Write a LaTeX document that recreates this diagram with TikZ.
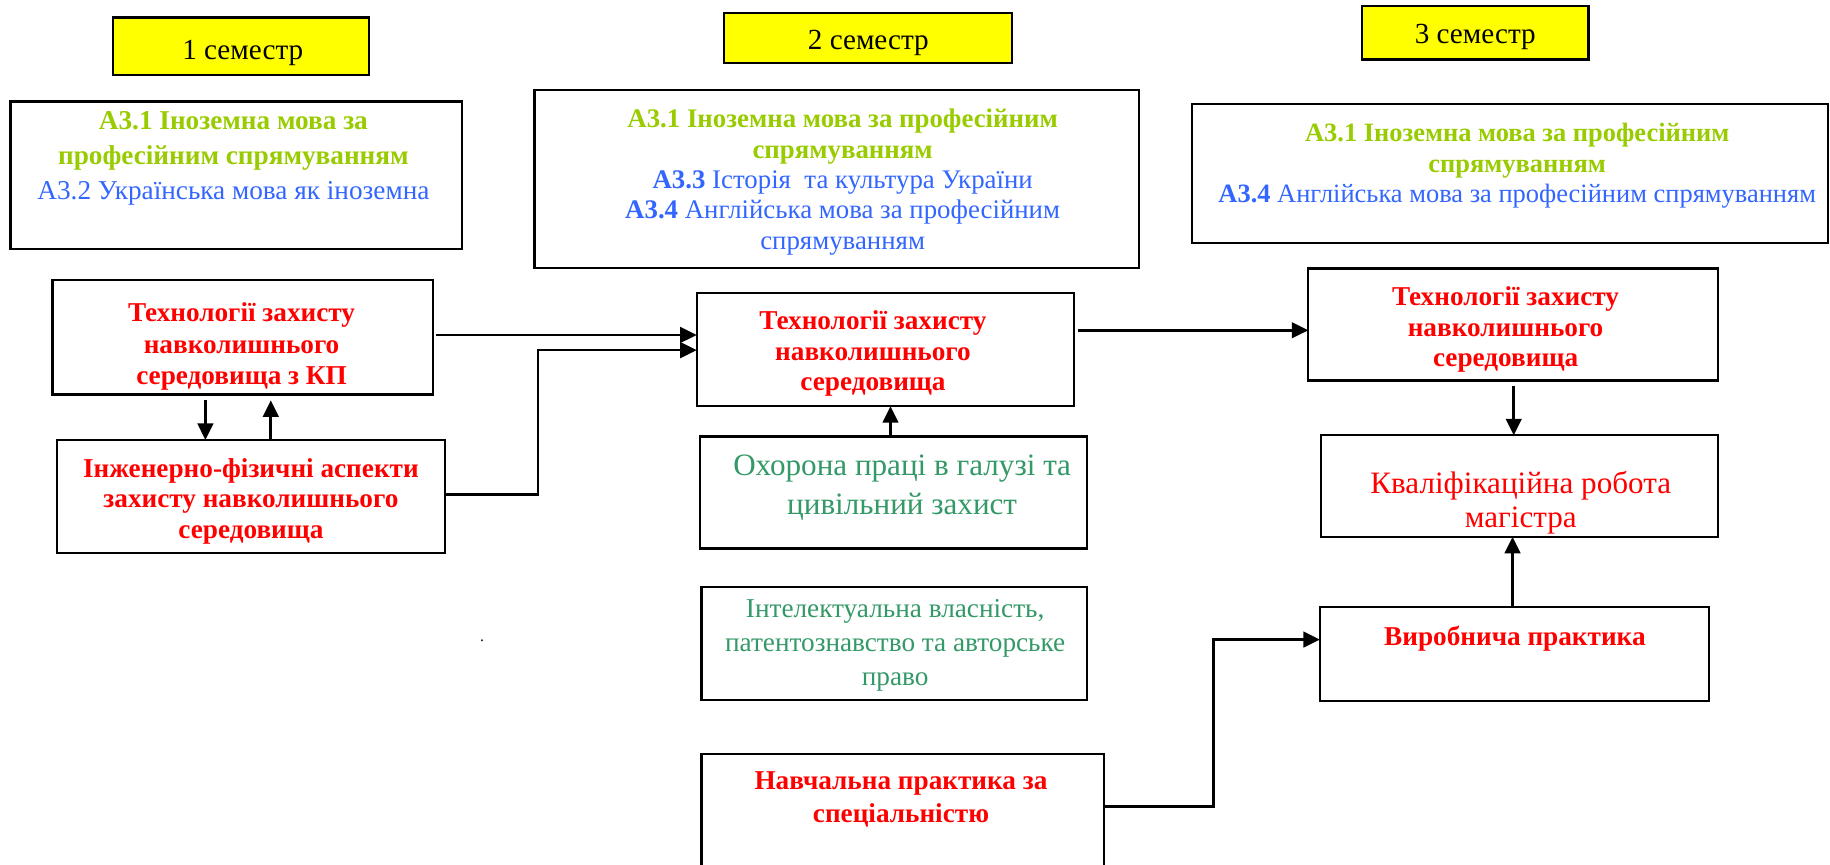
\documentclass[tikz,border=0pt]{standalone}
\usepackage{fontspec}
\setmainfont{Liberation Serif}
\usetikzlibrary{arrows.meta,calc}
\definecolor{semyellow}{HTML}{FFFF00}
\definecolor{limeg}{HTML}{99CC00}
\definecolor{blueA}{HTML}{3366FF}
\definecolor{redA}{HTML}{FF0000}
\definecolor{seag}{HTML}{339966}
\begin{document}
\begin{tikzpicture}[x=0.6pt,y=-0.6pt,
  box/.style={draw=black, line width=1.1pt, inner sep=0pt, outer sep=0pt},
  sembox/.style={box, fill=semyellow},
  txt/.style={align=center, inner sep=0pt},
  arr/.style={line width=1.4pt, -{Triangle[length=8.5pt,width=8pt]}}]
\useasboundingbox (0,0) rectangle (1568,741);
\fill[white] (0,0) rectangle (1568,741);

% semester labels
\node[sembox, minimum width=131.4pt, minimum height=29.4pt] (s1) at (206.5,39.5) {};
\node[sembox, minimum width=148.2pt, minimum height=25.8pt] (s2) at (743.5,32.5) {};
\node[sembox, minimum width=116.4pt, minimum height=27.6pt] (s3) at (1264,28) {};
\node[txt, font=\fontsize{15}{18}\selectfont] (s1t) at (208,45) {1 семестр};
\node[txt, font=\fontsize{15}{18}\selectfont] (s2t) at (744,37) {2 семестр};
\node[txt, font=\fontsize{15}{18}\selectfont] (s3t) at (1264,32) {3 семестр};

% language boxes
\node[box, minimum width=232.2pt, minimum height=75.6pt] (a) at (202.5,150) {};
\node[box, minimum width=310.8pt, minimum height=91.8pt] (b) at (717,153.5) {};
\node[box, minimum width=327pt, minimum height=71.4pt] (c) at (1293.5,148.5) {};
\node[txt, font=\fontsize{14}{18}\selectfont] (at) at (200,136)
  {\textcolor{limeg}{\textbf{А3.1 Іноземна мова за}}\\
   \textcolor{limeg}{\textbf{професійним спрямуванням}}\\
   \textcolor{blueA}{А3.2 Українська мова як іноземна}};
\node[txt, font=\fontsize{13.8}{15.6}\selectfont] (bt) at (722,156)
  {\textcolor{limeg}{\textbf{А3.1 Іноземна мова за професійним}}\\
   \textcolor{limeg}{\textbf{спрямуванням}}\\
   \textcolor{blueA}{\textbf{А3.3} Історія\ \ та культура України}\\
   \textcolor{blueA}{\textbf{А3.4} Англійська мова за професійним}\\
   \textcolor{blueA}{спрямуванням}};
\node[txt, font=\fontsize{13.6}{15.8}\selectfont] (ct) at (1300,142)
  {\textcolor{limeg}{\textbf{А3.1 Іноземна мова за професійним}}\\
   \textcolor{limeg}{\textbf{спрямуванням}}\\
   \textcolor{blueA}{\textbf{А3.4} Англійська мова за професійним спрямуванням}};

% discipline boxes
\node[box, minimum width=195.6pt, minimum height=58.8pt] (t1) at (208,289) {};
\node[box, minimum width=199.2pt, minimum height=58.2pt] (i) at (215,425.5) {};
\node[box, minimum width=193.8pt, minimum height=58.2pt] (t2) at (758.5,299.5) {};
\node[box, minimum width=198.6pt, minimum height=57.6pt] (o) at (765.5,422) {};
\node[box, minimum width=198pt, minimum height=58.2pt] (int) at (766,551.5) {};
\node[box, minimum width=207pt, minimum height=61.2pt] (n) at (773.5,697) {};
\node[box, minimum width=210.6pt, minimum height=57.6pt] (t3) at (1296.5,278) {};
\node[box, minimum width=204pt, minimum height=52.2pt] (k) at (1302,416.5) {};
\node[box, minimum width=199.8pt, minimum height=48.6pt] (v) at (1297.5,560.5) {};

\node[txt, font=\fontsize{14}{16.2}\selectfont\bfseries, text=redA] (t1t) at (207,297)
  {Технології захисту\\ навколишнього\\ середовища з КП};
\node[txt, font=\fontsize{14}{15.6}\selectfont\bfseries, text=redA] (it) at (215,429.5)
  {Інженерно-фізичні аспекти\\ захисту навколишнього\\ середовища};
\node[txt, font=\fontsize{14}{15.6}\selectfont\bfseries, text=redA] (t2t) at (748,303)
  {Технології захисту\\ навколишнього\\ середовища};
\node[txt, font=\fontsize{16}{19.8}\selectfont, text=seag] (ot) at (773,418)
  {Охорона праці в галузі та\\ цивільний захист};
\node[txt, font=\fontsize{14}{17.4}\selectfont, text=seag] (intt) at (767,553)
  {Інтелектуальна власність,\\ патентознавство та авторське\\ право};
\node[txt, font=\fontsize{14}{16.8}\selectfont\bfseries, text=redA] (nt) at (772,685)
  {Навчальна практика за\\ спеціальністю};
\node[txt, font=\fontsize{14}{15.6}\selectfont\bfseries, text=redA] (t3t) at (1290,282.5)
  {Технології захисту\\ навколишнього\\ середовища};
\node[txt, font=\fontsize{16}{17.4}\selectfont, text=redA] (kt) at (1303,430.5)
  {Кваліфікаційна робота\\ магістра};
\node[txt, font=\fontsize{14}{15.6}\selectfont\bfseries, text=redA] (vt) at (1298,547.5)
  {Виробнича практика};

\node[txt, font=\fontsize{8}{8}\selectfont] (dot) at (413,549) {.};

% connectors
\draw[arr] ($(t1.east |- 0,287)+(3,0)$) -- (t2.west |- 0,287);
\draw[arr] (i.east |- 0,424) -- (461,424) |- (t2.west |- 0,300);
\draw[arr] ($(176,0 |- t1.south)+(0,5)$) -- (176,0 |- i.north);
\draw[arr] (232,0 |- i.north) -- ($(232,0 |- t1.south)+(0,5)$);
\draw[arr] (763,0 |- o.north) -- (763,0 |- t2.south);
\draw[arr] ($(t2.east |- 0,283)+(4,0)$) -- (t3.west |- 0,283);
\draw[arr] ($(1297,0 |- t3.south)+(0,5)$) -- (1297,0 |- k.north);
\draw[arr] (1296,0 |- v.north) -- (1296,0 |- k.south);
\draw[arr] (n.east |- 0,691) -- (1040,691) |- (v.west |- 0,548);
\end{tikzpicture}
\end{document}
